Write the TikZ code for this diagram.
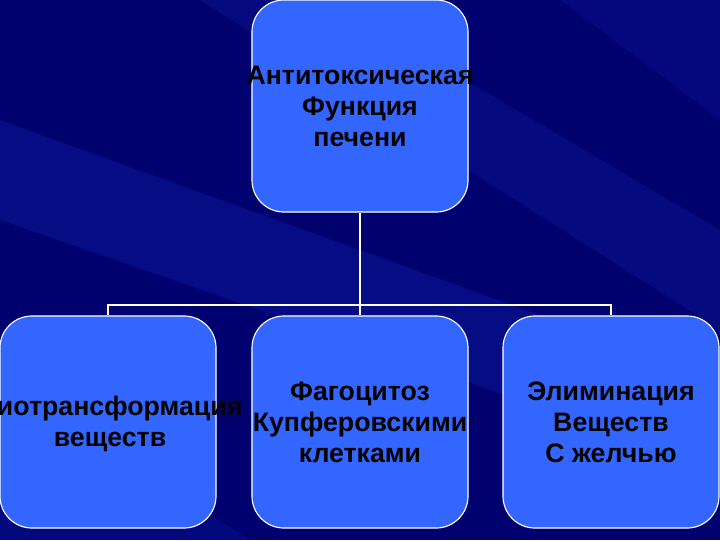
\documentclass[tikz,border=0pt]{standalone}
\usepackage{fontspec}
\setmainfont{Liberation Sans}
\begin{document}
\begin{tikzpicture}[x=0.025cm,y=-0.025cm,
  box/.style={draw=white,line width=0.8pt,fill=boxblue,rounded corners=0.8cm,minimum width=5.4cm,minimum height=5.3cm,inner sep=0pt},
  txt/.style={inner sep=0pt,align=center,font=\bfseries\fontsize{19}{22}\selectfont},
  link/.style={draw=white,line width=1.6pt}]
\definecolor{boxblue}{RGB}{51,102,255}
\definecolor{bgblue}{RGB}{0,0,110}
\definecolor{streak}{RGB}{20,40,180}
\useasboundingbox (0,0) rectangle (720,540);
\clip (0,0) rectangle (720,540);
\fill[bgblue] (0,0) rectangle (720,540);
\fill[streak,opacity=0.3] (0,120) -- (0,220) -- (720,470) -- (720,380) -- cycle;
\fill[streak,opacity=0.25] (200,0) -- (330,0) -- (720,230) -- (720,330) -- cycle;
\fill[streak,opacity=0.2] (560,0) -- (720,0) -- (720,120) -- cycle;
\fill[streak,opacity=0.2] (0,380) -- (0,540) -- (250,540) -- cycle;
\node[box] (top) at (360,106) {};
\node[box] (b1) at (108,422) {};
\node[box] (b2) at (360,422) {};
\node[box] (b3) at (611,422) {};
\node[txt] (t0) at (top.center) {Антитоксическая\\Функция\\печени};
\node[txt] (t1) at (110,424) {Биотрансформация\\веществ};
\node[txt] (t2) at (b2.center) {Фагоцитоз\\Купферовскими\\клетками};
\node[txt] (t3) at (b3.center) {Элиминация\\Веществ\\С желчью};
\coordinate (j) at (360,305);
\draw[link] (top.south) -- (j);
\draw[link] (b1.north) |- (j) -| (b3.north);
\draw[link] (j) -- (b2.north);
\end{tikzpicture}
\end{document}
